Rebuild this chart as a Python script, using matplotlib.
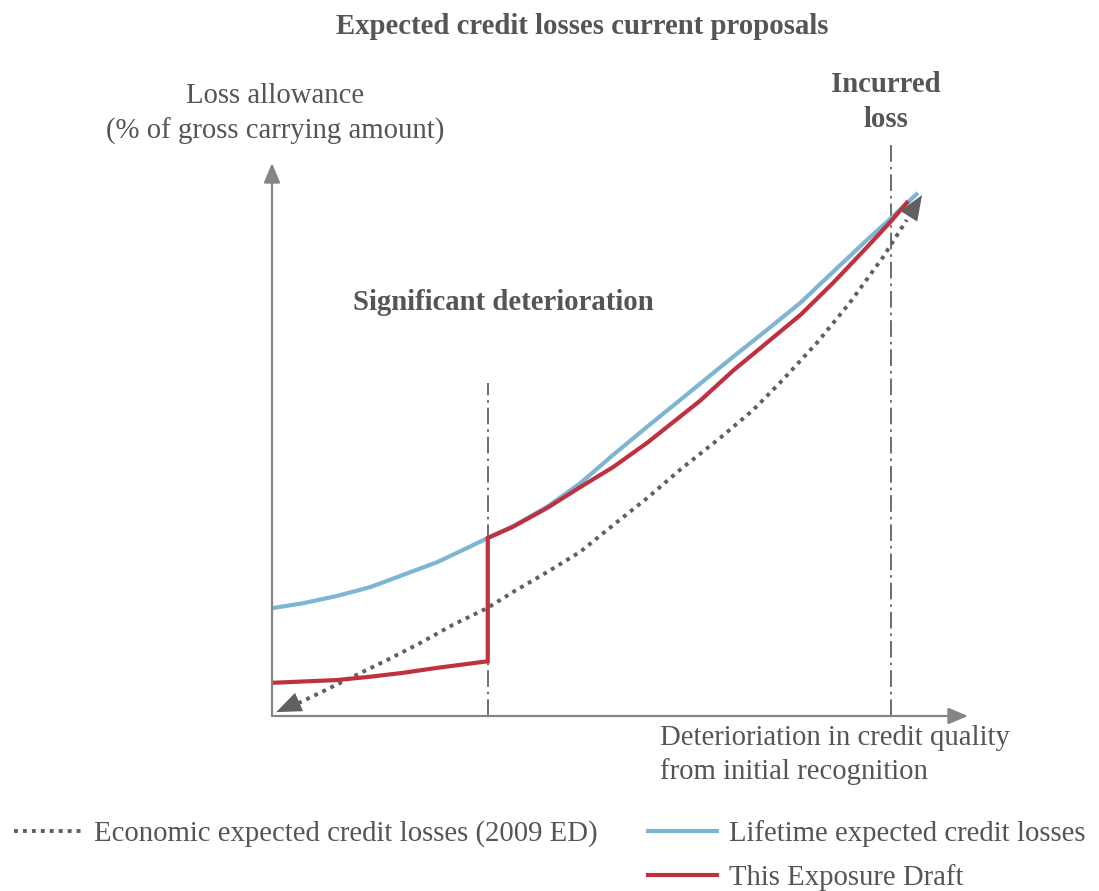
import numpy as np
import matplotlib
matplotlib.use("Agg")
import matplotlib.pyplot as plt
from matplotlib.lines import Line2D

# deterioration (x) and loss allowance (y), both on a 0-100 schematic scale
x_lifetime = [0, 4.5, 9.3, 14.1, 18.8, 23.7, 28.4, 31.0, 34.6, 39.5, 44.3, 49.0,
              53.9, 58.6, 62.2, 66.2, 71.1, 75.9, 80.6, 85.5, 89.1, 92.8]
y_lifetime = [19.5, 20.4, 21.7, 23.3, 25.5, 27.8, 30.6, 32.2, 34.3, 37.8, 42.1, 47.2,
              52.3, 57.1, 60.8, 64.9, 69.8, 74.7, 80.3, 86.1, 90.2, 94.6]

x_draft = [0, 9.3, 14.1, 18.8, 23.7, 31.0, 31.0, 34.6, 39.5, 44.3, 49.0, 53.9,
           58.6, 61.5, 66.2, 71.1, 75.9, 80.6, 85.5, 89.1, 91.4]
y_draft = [6.0, 6.5, 7.1, 7.8, 8.7, 9.9, 32.2, 34.2, 37.6, 41.4, 45.0, 49.4,
           54.1, 57.0, 62.4, 67.5, 72.5, 78.3, 84.8, 89.7, 93.1]

x_econ = [0.6, 2.6, 6.9, 11.6, 16.5, 21.3, 26.0, 30.9, 34.6, 39.5, 44.3, 49.0,
          53.9, 58.6, 64.4, 69.1, 73.4, 78.3, 83.0, 87.8, 91.2, 93.4]
y_econ = [0.7, 1.6, 4.2, 7.1, 10.1, 13.2, 16.5, 19.5, 22.4, 26.0, 29.7, 34.5,
          39.4, 44.5, 50.3, 55.3, 60.8, 67.5, 74.7, 83.0, 89.7, 94.2]

x_significant = 31.0
y_significant_top = 60.2
x_incurred = 88.9
y_incurred_top = 103.3

labels = ["Economic expected credit losses (2009 ED)",
          "Lifetime expected credit losses",
          "This Exposure Draft"]

BLUE = "#7db5d3"
RED = "#c0313f"
GREY = "#606060"
TXT = "#555555"
FS = 20.7
DOTS = (0, (1.0, 1.3))
plt.rcParams["font.family"] = ["Liberation Serif", "DejaVu Serif"]

fig = plt.figure(figsize=(10.99, 8.91), dpi=100)
ax = fig.add_axes([272 / 1099, 1 - 716 / 891, 696 / 1099, 553 / 891])
ax.set_xlim(0, 100)
ax.set_ylim(0, 100)
ax.axis("off")

# axes with arrow heads
axis_style = dict(arrowstyle="-|>,head_length=0.6,head_width=0.25", color="#858585",
                  lw=1.6, mutation_scale=20, shrinkA=0, shrinkB=0)
ax.annotate("", xy=(0, 100), xytext=(0, 0), arrowprops=axis_style, annotation_clip=False)
ax.annotate("", xy=(100, 0), xytext=(0, 0), arrowprops=axis_style, annotation_clip=False)

# threshold lines
dashdot = (0, (10, 3, 1.5, 3))
ax.plot([x_significant, x_significant], [0, y_significant_top], color="#555555",
        lw=1.2, ls=dashdot, clip_on=False)
ax.plot([x_incurred, x_incurred], [0, y_incurred_top], color="#555555",
        lw=1.2, ls=dashdot, clip_on=False)

# curves
ax.plot(x_econ[1:-1], y_econ[1:-1], color=GREY, lw=2.8, ls=DOTS, clip_on=False)
head = dict(arrowstyle="-|>,head_length=0.75,head_width=0.3", color=GREY, lw=0,
            mutation_scale=24, shrinkA=0, shrinkB=0)
ax.annotate("", xy=(x_econ[0], y_econ[0]), xytext=(x_econ[2], y_econ[2]),
            arrowprops=head, annotation_clip=False)
ax.annotate("", xy=(x_econ[-1], y_econ[-1]), xytext=(x_econ[-3], y_econ[-3]),
            arrowprops=head, annotation_clip=False)
ax.plot(x_lifetime, y_lifetime, color=BLUE, lw=3, solid_capstyle="butt",
        solid_joinstyle="round", clip_on=False)
ax.plot(x_draft, y_draft, color=RED, lw=3, solid_capstyle="butt",
        solid_joinstyle="miter", clip_on=False)


def ftext(px, py, s, **kw):
    fig.text(px / 1099, 1 - py / 891, s, color=TXT, **kw)


ftext(582, 26, "Expected credit losses current proposals", fontsize=FS,
      fontweight="bold", ha="center", va="center")
ftext(275, 114, "Loss allowance\n(% of gross carrying amount)", fontsize=FS,
      ha="center", va="center", linespacing=1.42)
ftext(886, 102, "Incurred\nloss", fontsize=FS, fontweight="bold",
      ha="center", va="center", linespacing=1.42)
ftext(503, 303, "Significant deterioration", fontsize=FS, fontweight="bold",
      ha="center", va="center")
ftext(660, 755, "Deterioriation in credit quality\nfrom initial recognition",
      fontsize=FS, ha="left", va="center", linespacing=1.38)

handles = [Line2D([], [], color=GREY, lw=2.8, ls=DOTS),
           Line2D([], [], color="none"),
           Line2D([], [], color=BLUE, lw=3),
           Line2D([], [], color=RED, lw=3)]
leg = fig.legend(handles, [labels[0], "", labels[1], labels[2]], ncol=2,
                 loc="upper left", bbox_to_anchor=(14 / 1099, 1 - 820 / 891),
                 frameon=False, fontsize=FS, handlelength=2.4, handletextpad=0.4,
                 columnspacing=1.75, labelspacing=0.58, borderpad=0, borderaxespad=0)
for t in leg.get_texts():
    t.set_color(TXT)

fig.savefig("out.png", dpi=100, facecolor="white")
